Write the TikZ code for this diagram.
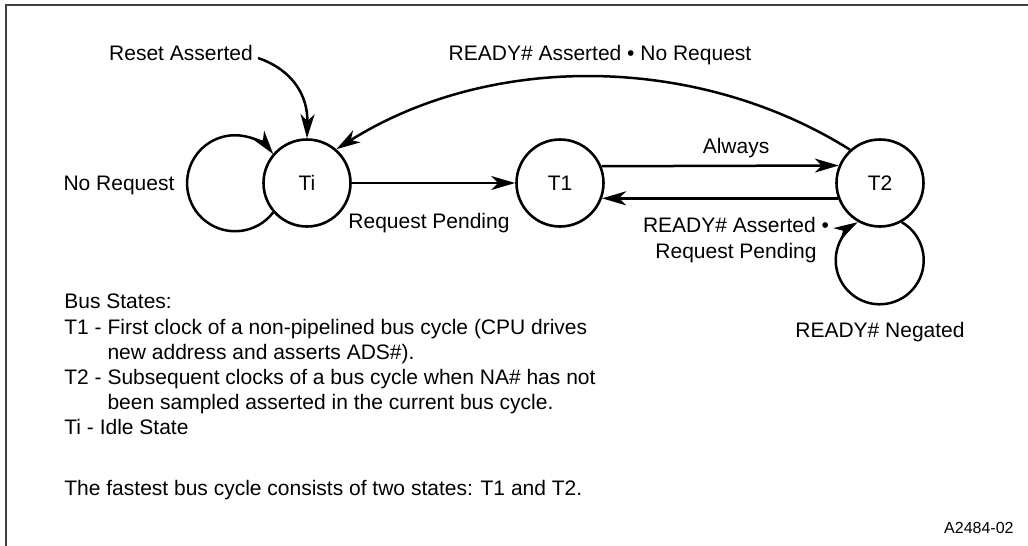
\documentclass[tikz,border=0pt]{standalone}
\usepackage{fontspec}
\setmainfont{Liberation Sans}
\usetikzlibrary{arrows.meta}
\begin{document}
\begin{tikzpicture}[x=0.5pt,y=-0.5pt,
  state/.style={circle,draw,line width=1.3pt,minimum size=43.5pt,inner sep=0pt,font=\fontsize{10.5}{12.5}\selectfont},
  lbl/.style={inner sep=0pt,font=\fontsize{10.5}{12.5}\selectfont},
  conn/.style={line width=1.25pt,-{Stealth[length=12pt,width=7pt,inset=3.5pt]}},
  frame/.style={line width=1pt,black!75}
]
\useasboundingbox (0,0) rectangle (1028,546);
\draw[frame] (6,546) -- (6,5) -- (1028,5);

\node[state] (Ti) at (307,183) {Ti};
\node[state] (T1) at (560,183) {T1};
\node[state] (T2) at (880,183) {T2};

\draw[conn] (Ti) -- (T1);
\draw[conn] (T1.22.7) -- (T2.157.3);
\draw[conn] (T2.-160) -- (T1.-20);
\draw[conn] (T2.132) .. controls (696,53) and (489,53) .. (Ti.49);
\coordinate (rs) at (258,58);
\draw[conn] (rs) .. controls (293,70) and (308,96) .. (Ti.north);
\draw[conn] (Ti.221.3) arc[start angle=37.4, end angle=322.6, radius=48];
\draw[conn] (T2.-61) arc[start angle=-60, end angle=240, radius=44];

\node[lbl, anchor=base] (reset) at (181,60) {Reset Asserted};
\node[lbl, anchor=base] (rdy1) at (600,60) {READY\# Asserted • No Request};
\node[lbl, anchor=base] (noreq) at (119,190) {No Request};
\node[lbl, anchor=base] (reqp) at (429,228) {Request Pending};
\node[lbl, anchor=base] (always) at (736,153) {Always};
\node[lbl, anchor=base] (rdy2a) at (736,232) {READY\# Asserted •};
\node[lbl, anchor=base] (rdy2b) at (736,258) {Request Pending};
\node[lbl, anchor=base] (neg) at (880,337) {READY\# Negated};
\node[inner sep=0pt, font=\fontsize{8}{9.6}\selectfont, anchor=base east] (fig) at (1014,533) {A2484-02};

\node[lbl, anchor=base west] (b0) at (64,308) {Bus States:};
\node[lbl, anchor=base west] (b1) at (64,334) {T1 - First clock of a non-pipelined bus cycle (CPU drives};
\node[lbl, anchor=base west] (b2) at (64,359) {\phantom{T1 - }new address and asserts ADS\#).};
\node[lbl, anchor=base west] (b3) at (64,384) {T2 - Subsequent clocks of a bus cycle when NA\# has not};
\node[lbl, anchor=base west] (b4) at (64,409) {\phantom{T2 - }been sampled asserted in the current bus cycle.};
\node[lbl, anchor=base west] (b5) at (64,434) {Ti - Idle State};
\node[lbl, anchor=base west] (b6) at (64,495) {The fastest bus cycle consists of two states: T1 and T2.};
\end{tikzpicture}
\end{document}
